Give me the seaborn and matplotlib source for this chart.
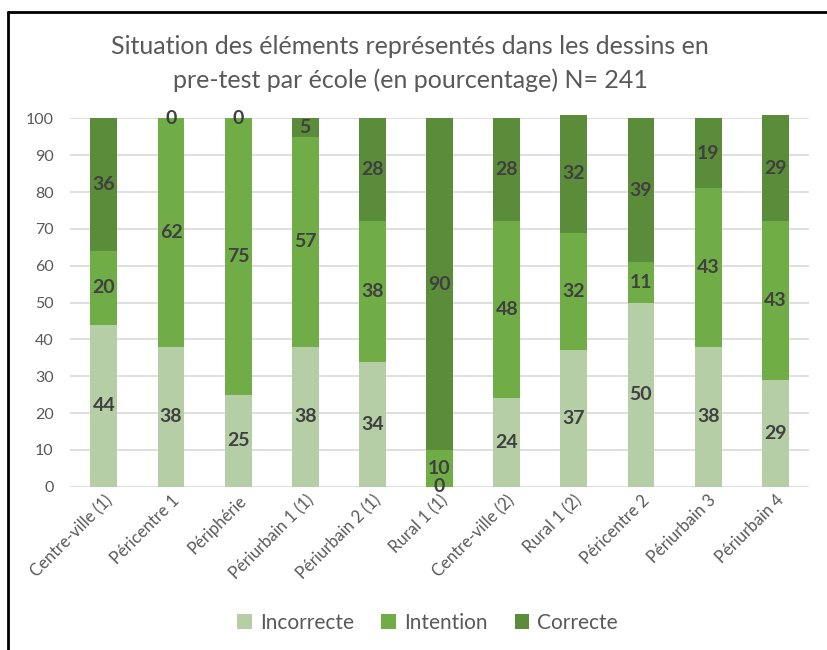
import matplotlib
matplotlib.use("Agg")
import matplotlib.pyplot as plt
from matplotlib.lines import Line2D
from matplotlib.patches import Patch
import seaborn as sns
import pandas as pd
import numpy as np

ecoles = ["Centre-ville (1)", "Péricentre 1", "Périphérie", "Périurbain 1 (1)",
          "Périurbain 2 (1)", "Rural 1 (1)", "Centre-ville (2)", "Rural 1 (2)",
          "Péricentre 2", "Périurbain 3", "Périurbain 4"]
incorrecte = [44, 38, 25, 38, 34, 0, 24, 37, 50, 38, 29]
intention = [20, 62, 75, 57, 38, 10, 48, 32, 11, 43, 43]
correcte = [36, 0, 0, 5, 28, 90, 28, 32, 39, 19, 29]

series = ["Incorrecte", "Intention", "Correcte"]
couleurs = ["#B5CEA6", "#70AD47", "#5B8C39"]

sns.set_theme(style="white")
plt.rcParams["font.family"] = ["Lato", "DejaVu Sans"]

valeurs = np.array([incorrecte, intention, correcte], dtype=float)
cumul = valeurs.cumsum(axis=0)

fig = plt.figure(figsize=(8.27, 6.5), dpi=100)
ax = fig.add_axes([0.085, 0.251, 0.893, 0.567])

# stacked bars: draw the cumulative totals from the top series down
for i in reversed(range(3)):
    df = pd.DataFrame({"ecole": ecoles, "total": cumul[i]})
    sns.barplot(data=df, x="ecole", y="total", color=couleurs[i], width=0.4,
                saturation=1, ax=ax, zorder=2, linewidth=0)
for p in ax.patches:
    p.set_clip_on(False)

# value labels centred in each segment
for i in range(3):
    for j in range(len(ecoles)):
        y = cumul[i, j] - valeurs[i, j] / 2
        ax.text(j, y, f"{int(valeurs[i, j])}", ha="center", va="center",
                fontsize=14, fontweight="bold", color="#404040", zorder=4)

ax.set_ylim(0, 100)
ax.set_xlim(-0.5, len(ecoles) - 0.5)
ax.set_yticks(range(0, 101, 10))
ax.yaxis.grid(True, color="#D9D9D9", linewidth=1.2, zorder=0)
ax.set_axisbelow(True)
for s in ax.spines.values():
    s.set_visible(False)
ax.set_xlabel("")
ax.set_ylabel("")
ax.tick_params(axis="y", length=0, labelsize=11.5, labelcolor="#595959", pad=12)
ax.tick_params(axis="x", length=0, labelsize=12, labelcolor="#595959", pad=4)
ax.set_xticks(range(len(ecoles)))
ax.set_xticklabels(ecoles, rotation=45, ha="right", rotation_mode="anchor")

fig.text(0.496, 0.928, "Situation des éléments représentés dans les dessins en",
         ha="center", va="center", fontsize=18, color="#595959")
fig.text(0.496, 0.877, "pre-test par école (en pourcentage) N= 241",
         ha="center", va="center", fontsize=18, color="#595959")

handles = [Patch(facecolor=c, edgecolor="none") for c in couleurs]
fig.legend(handles, series, loc="center", bbox_to_anchor=(0.517, 0.042),
           ncol=3, frameon=False, fontsize=15, handlelength=0.7,
           handleheight=0.7, handletextpad=0.4, columnspacing=1.3,
           labelcolor="#595959")

# frame edges of the chart area
fig.add_artist(Line2D([0.0097, 1.0], [0.982, 0.982], transform=fig.transFigure,
                      color="black", linewidth=2))
fig.add_artist(Line2D([0.0097, 0.0097], [0.0, 0.982], transform=fig.transFigure,
                      color="black", linewidth=2))

fig.savefig("out.png", dpi=100)
